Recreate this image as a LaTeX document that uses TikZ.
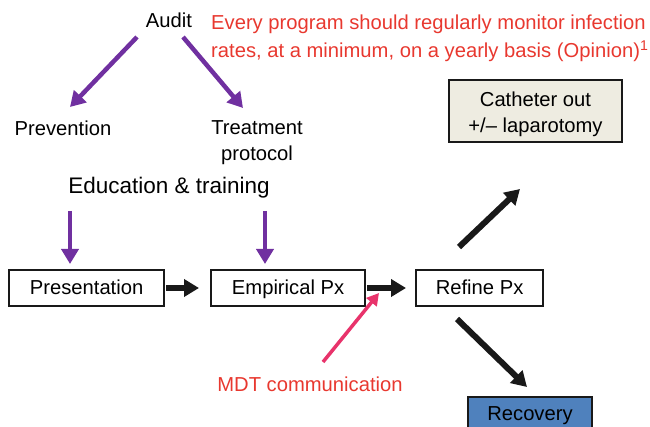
\documentclass[tikz,border=0pt]{standalone}
\usepackage{fontspec}
\setmainfont{Liberation Sans}
\usetikzlibrary{arrows.meta}
\definecolor{txtred}{HTML}{E8382F}
\definecolor{arrpurple}{HTML}{7030A0}
\definecolor{arrpink}{HTML}{E8336B}
\definecolor{beige}{HTML}{EEECE1}
\definecolor{recblue}{HTML}{4F81BD}
\begin{document}
\begin{tikzpicture}[x=1pt,y=-1pt,
  every node/.style={font=\fontsize{20.2}{26}\selectfont, inner sep=0pt},
  stepbox/.style={draw=black!90, line width=2.2pt, minimum height=36pt, anchor=west,
    text height=16pt, text depth=2pt},
  purplearrow/.style={draw=arrpurple, line width=4.5pt, -{Triangle[length=15pt,width=17pt]}},
  blackarrow/.style={draw=black!90, line width=6pt, -{Triangle[length=15pt,width=17pt]}},
  pinkarrow/.style={draw=arrpink, line width=3.5pt, -{Triangle[length=12pt,width=13pt]}}]
\path[use as bounding box] (0,0) rectangle (650,427);

% top: audit and its two branches
\node (audit) at (169,20) {Audit};
\node[text=txtred, align=left, anchor=west, font=\fontsize{20.2}{28}\selectfont] (note) at (211,38.5)
  {Every program should regularly monitor infection\\
   rates, at a minimum, on a yearly basis (Opinion)\textsuperscript{1}};
\node (prev) at (63,128) {Prevention};
\node[align=center] (treat) at (257,143) {Treatment\\protocol};
\coordinate (a1s) at (137,37);
\coordinate (a1e) at (70,107);
\coordinate (a2s) at (183,37);
\coordinate (a2e) at (243,108);
\draw[purplearrow] (a1s) -- (a1e);
\draw[purplearrow] (a2s) -- (a2e);

% education feeding the main chain
\node[font=\fontsize{22.5}{27}\selectfont] (edu) at (169,188) {Education \& training};
\coordinate (e1s) at (70,211);
\coordinate (e1e) at (70,264);
\coordinate (e2s) at (265,211);
\coordinate (e2e) at (265,264);
\draw[purplearrow] (e1s) -- (e1e);
\draw[purplearrow] (e2s) -- (e2e);

% main chain
\node[stepbox, minimum width=155pt] (pres) at (8,288) {Presentation};
\node[stepbox, minimum width=154pt] (emp) at (210,288) {Empirical Px};
\node[stepbox, minimum width=127pt] (ref) at (415,288) {Refine Px};
\draw[blackarrow] (pres.east) ++(1,0) -- ([xshift=-11pt]emp.west);
\draw[blackarrow] (emp.east) ++(1,0) -- ([xshift=-9pt]ref.west);

% outcomes
\node[draw=black!90, fill=beige, line width=2.2pt,
      minimum width=173pt, minimum height=62pt] (cath) at (535.5,111) {};
\node[align=center] (cathtxt) at ([yshift=-3pt]cath.center)
  {Catheter out\\+/-- laparotomy};
\node[draw=black!90, fill=recblue, line width=2.2pt, text height=16pt, text depth=10pt,
      minimum width=124pt, minimum height=40pt] (rec) at (530,417) {Recovery};
\coordinate (upS) at (459,247);
\coordinate (upE) at (520,189);
\coordinate (dnS) at (457,319);
\coordinate (dnE) at (527,387);
\draw[blackarrow] (upS) -- (upE);
\draw[blackarrow] (dnS) -- (dnE);

% team communication
\node[text=txtred] (mdt) at (310,384) {MDT communication};
\coordinate (mS) at (323,362);
\coordinate (mE) at (379,293);
\draw[pinkarrow] (mS) -- (mE);
\end{tikzpicture}
\end{document}
